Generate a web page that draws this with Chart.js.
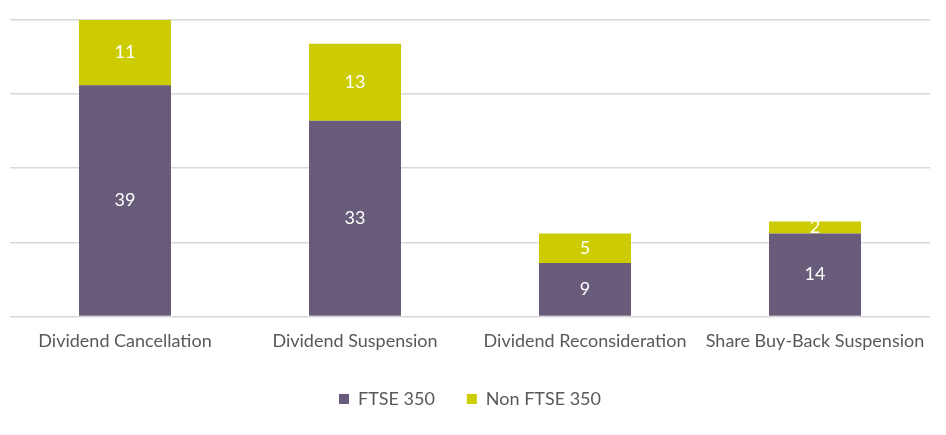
<!DOCTYPE html>
<html>
<head>
<meta charset="utf-8">
<script src="https://cdn.jsdelivr.net/npm/chart.js@4"></script>
<style>
  html, body { margin: 0; padding: 0; background: #fff; }
  #chartbox { width: 946px; height: 435px; }
</style>
</head>
<body>
<div id="chartbox"><canvas id="dividends"></canvas></div>
<script>
var categories = ["Dividend Cancellation", "Dividend Suspension", "Dividend Reconsideration", "Share Buy-Back Suspension"];
var ftse350 = [39, 33, 9, 14];
var nonFtse350 = [11, 13, 5, 2];

// write the value in the middle of each bar segment
var barValues = {
  id: 'barValues',
  afterDatasetsDraw: function(chart) {
    var ctx = chart.ctx;
    ctx.save();
    ctx.fillStyle = '#fff';
    ctx.font = '18px Lato';
    ctx.textAlign = 'center';
    ctx.textBaseline = 'middle';
    chart.data.datasets.forEach(function(ds, i) {
      chart.getDatasetMeta(i).data.forEach(function(bar, j) {
        var mid = (bar.y + bar.base) / 2;
        ctx.fillText(ds.data[j], bar.x, mid);
      });
    });
    ctx.restore();
  }
};

var cty = document.getElementById("dividends").getContext("2d");
new Chart(cty, {
  type: 'bar',
  data: {
    labels: categories,
    datasets: [
      { label: "FTSE 350", data: ftse350, backgroundColor: "#695c7b", categoryPercentage: 1, barPercentage: 0.4 },
      { label: "Non FTSE 350", data: nonFtse350, backgroundColor: "#cccc00", categoryPercentage: 1, barPercentage: 0.4 }
    ]
  },
  options: {
    responsive: true,
    maintainAspectRatio: false,
    animation: false,
    layout: { padding: { left: 10, right: 16, top: 20, bottom: 17 } },
    plugins: {
      tooltip: { enabled: false },
      legend: {
        position: 'bottom',
        labels: { boxWidth: 10, boxHeight: 10, padding: 32, color: '#595959', font: { family: 'Lato', size: 18 } }
      }
    },
    scales: {
      x: {
        stacked: true,
        grid: { display: false },
        border: { display: false },
        ticks: { color: '#595959', font: { family: 'Lato', size: 18 }, padding: 6 }
      },
      y: {
        stacked: true,
        min: 0,
        max: 50,
        ticks: { display: false, stepSize: 12.5 },
        border: { display: false },
        grid: { color: '#d9d9d9', lineWidth: 1.5, drawTicks: false }
      }
    }
  },
  plugins: [barValues]
});
</script>
</body>
</html>
